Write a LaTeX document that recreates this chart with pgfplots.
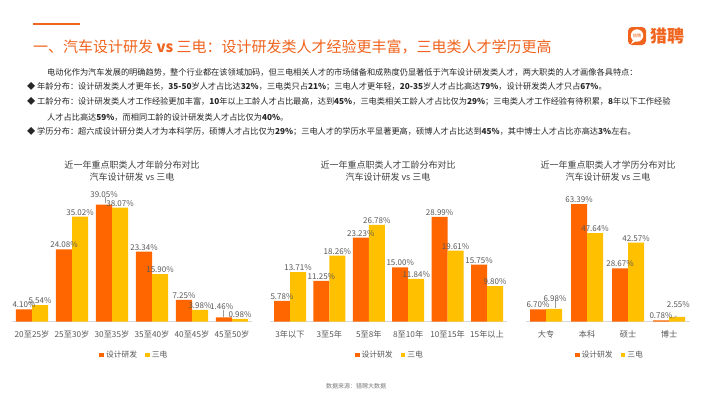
\documentclass[border=0pt]{standalone}
\usepackage{pgfplots}
\pgfplotsset{compat=1.18}
\usepackage{pgfplotstable}
\usepackage{fontspec}
\setmainfont{Noto Sans CJK SC}
\definecolor{cOr}{HTML}{FF6600}
\definecolor{cYe}{HTML}{FFC000}
\definecolor{cTitle}{HTML}{F0641E}
\definecolor{cTxt}{HTML}{262626}
\definecolor{cGray}{HTML}{595959}
\definecolor{cHead}{HTML}{404040}
\definecolor{cLine}{HTML}{D9D9D9}
\newcommand{\fs}[1]{\fontsize{#1bp}{#1bp}\selectfont}

% age distribution
\pgfplotstableread{
x a adx ady b bdx bdy
0 4.10 0 0 5.54 0 0
1 24.08 0 0 35.02 0 0
2 39.05 0 5.8 38.07 0 0
3 23.34 0 0 15.90 0 0
4 7.25 0 0 3.98 0 0
5 1.46 -2.3 6 0.98 0 0
}\ageT
% working years
\pgfplotstableread{
x a adx ady b bdx bdy
0 5.78 0 0 13.71 0 0
1 11.25 0 0 18.26 0 0
2 23.23 0 0 26.78 0 0
3 15.00 0 0 11.84 0 0
4 28.99 0 0 19.61 0 0
5 15.75 0 0 9.80 0 0
}\workT
% education
\pgfplotstableread{
x a adx ady b bdx bdy
0 6.70 0 0 6.98 1 6
1 63.39 0 0 47.64 0 0
2 28.67 0 0 42.57 0 0
3 0.78 0 0 2.55 1.3 8.3
}\eduT

\pgfplotsset{
  barchart/.style={
    scale only axis,
    ybar=0pt, bar width=16bp,
    ymin=0, enlargelimits=false,
    axis x line=bottom, axis y line=none,
    x axis line style={draw=cLine, -, line width=0.6bp},
    major tick length=0pt, xtick style={draw=none},
    xtick=data,
    xticklabel style={font=\fs{8.2}, text=cGray, inner sep=0pt, anchor=center, yshift=-12.3bp},
    clip=false,
    nodes near coords={\pgfmathprintnumber[fixed,fixed zerofill,precision=2,assume math mode=true]{\pgfplotspointmeta}\%},
    nodes near coords style={font=\fs{8}, text=cGray, inner sep=1.2bp, xshift=\dx*1bp, yshift=\dy*1bp},
    legend style={draw=none, fill=none, font=\fs{7.8}, text=cGray, legend columns=2, anchor=center,
      /tikz/every even column/.append style={column sep=6bp}},
  },
  serA/.style={fill=cOr, draw=none,
    visualization depends on={\thisrow{adx}\as\dx},
    visualization depends on={\thisrow{ady}\as\dy},
    legend image code/.code={\fill[cOr] (0bp,-2.3bp) rectangle (4.6bp,2.3bp);}},
  serB/.style={fill=cYe, draw=none,
    visualization depends on={\thisrow{bdx}\as\dx},
    visualization depends on={\thisrow{bdy}\as\dy},
    legend image code/.code={\fill[cYe] (0bp,-2.3bp) rectangle (4.6bp,2.3bp);}},
}

\begin{document}
\begin{tikzpicture}[x=1bp,y=-1bp]
\path[use as bounding box, fill=white] (0,0) rectangle (710,399);

% header
\draw[cTitle, line width=2.5bp] (33,24) -- (80,24);
\node[anchor=west, text=cTitle, font=\fs{15}, inner sep=0pt] at (33,47)
  {一、汽车设计研发 \textbf{vs} 三电：设计研发类人才经验更丰富，三电类人才学历更高};
\fill[cTitle, rounded corners=4bp] (628,27) rectangle (646,45);
\fill[white] (637,35.5) circle (6.2);
\fill[white] (633,40) -- (631,44) -- (636,41) -- cycle;
\node[text=cTitle, font=\fs{4.2}, inner sep=0pt] at (637,35.5) {猎聘};
\node[anchor=west, text=cTitle, font=\fs{17}\bfseries, inner sep=0pt] at (650,36) {猎聘};

% paragraph
\begin{scope}[every node/.style={anchor=west, text=cTxt, font=\fs{8.2}, inner sep=0pt}]
\node at (47,72) {电动化作为汽车发展的明确趋势，整个行业都在该领域加码，但三电相关人才的市场储备和成熟度仍显著低于汽车设计研发类人才，两大职类的人才画像各具特点：};
\node at (27,87) {◆ 年龄分布：设计研发类人才更年长，\textbf{35-50}岁人才占比达\textbf{32\%}，三电类只占\textbf{21\%}；三电人才更年轻，\textbf{20-35}岁人才占比高达\textbf{79\%}，设计研发类人才只占\textbf{67\%}。};
\node at (27,102) {◆ 工龄分布：设计研发类人才工作经验更加丰富，\textbf{10}年以上工龄人才占比最高，达到\textbf{45\%}，三电类相关工龄人才占比仅为\textbf{29\%}；三电类人才工作经验有待积累，\textbf{8}年以下工作经验};
\node at (47,117) {人才占比高达\textbf{59\%}，而相同工龄的设计研发类人才占比仅为\textbf{40\%}。};
\node at (27,132) {◆ 学历分布：超六成设计研分类人才为本科学历，硕博人才占比仅为\textbf{29\%}；三电人才的学历水平显著更高，硕博人才占比达到\textbf{45\%}，其中博士人才占比亦高达\textbf{3\%}左右。};
\end{scope}

% chart titles
\begin{scope}[every node/.style={text=cHead, font=\fs{9}, inner sep=0pt}]
\node at (132,165) {近一年重点职类人才年龄分布对比};
\node at (132,177.5) {汽车设计研发 vs 三电};
\node at (388,165) {近一年重点职类人才工龄分布对比};
\node at (388,177.5) {汽车设计研发 vs 三电};
\node at (608,165) {近一年重点职类人才学历分布对比};
\node at (608,177.5) {汽车设计研发 vs 三电};
\end{scope}

% chart 1: age
\begin{axis}[barchart, at={(12bp,-321.7bp)}, anchor=south west,
  width=240bp, height=120bp, xmin=-0.5, xmax=5.5, ymax=40,
  xticklabels={20至25岁,25至30岁,30至35岁,35至40岁,40至45岁,45至50岁},
  legend style={at={(0.51,-0.2775)}}]
\addplot[serA] table[x=x,y=a]{\ageT};
\addplot[serB] table[x=x,y=b]{\ageT};
\legend{设计研发,三电}
\draw[cGray!60, line width=0.5bp] (axis cs:1.83,39.5) -- (axis cs:1.83,41.6);
\draw[cGray!60, line width=0.5bp] (axis cs:4.77,1.7) -- (axis cs:4.77,3.9);
\end{axis}

% chart 2: working years
\begin{axis}[barchart, at={(270.3bp,-321.7bp)}, anchor=south west,
  width=236.4bp, height=108.6bp, xmin=-0.5, xmax=5.5, ymax=30,
  xticklabels={3年以下,3至5年,5至8年,8至10年,10至15年,15年以上},
  legend style={at={(0.506,-0.307)}}]
\addplot[serA] table[x=x,y=a]{\workT};
\addplot[serB] table[x=x,y=b]{\workT};
\legend{设计研发,三电}
\end{axis}

% chart 3: education
\begin{axis}[barchart, at={(525.5bp,-321.7bp)}, anchor=south west,
  width=164bp, height=120.7bp, xmin=-0.5, xmax=3.5, ymax=65,
  xticklabels={大专,本科,硕士,博士},
  legend style={at={(0.515,-0.276)}}]
\addplot[serA] table[x=x,y=a]{\eduT};
\addplot[serB] table[x=x,y=b]{\eduT};
\legend{设计研发,三电}
\draw[cGray!60, line width=0.5bp] (axis cs:0.22,7.4) -- (axis cs:0.22,12.2);
\draw[cGray!60, line width=0.5bp] (axis cs:3.09,1.8) -- (axis cs:3.19,3.2);
\end{axis}

% source
\node[text=cGray!80, font=\fs{6}, inner sep=0pt] at (356,386.7) {数据来源：猎聘大数据};
\end{tikzpicture}
\end{document}
